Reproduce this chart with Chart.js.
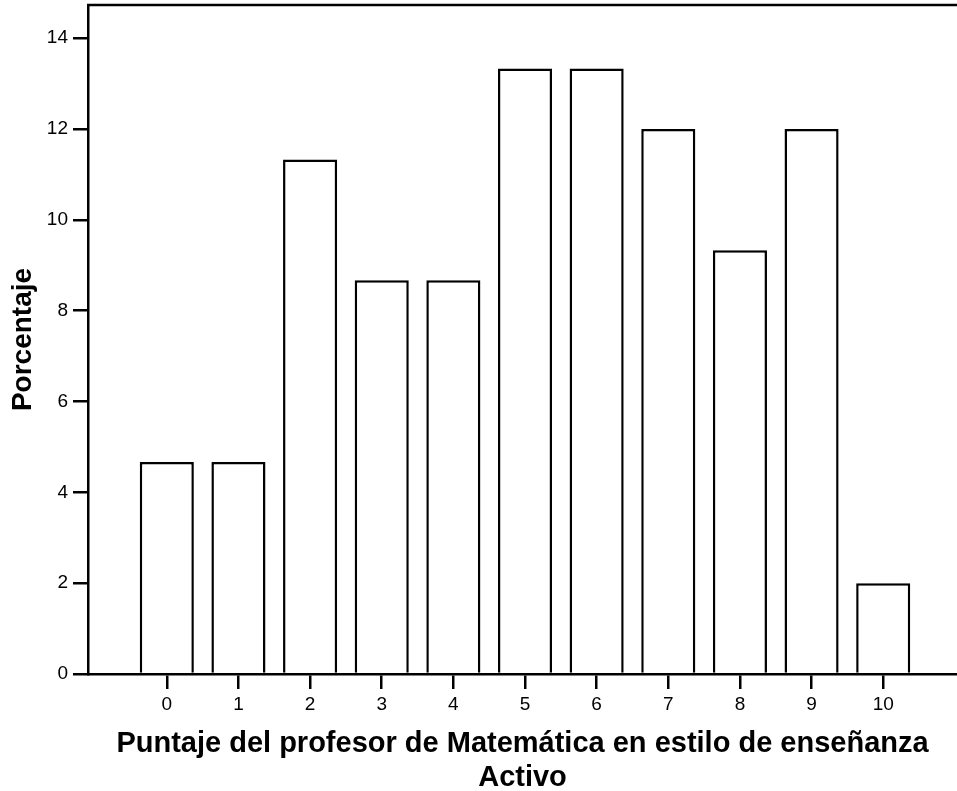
<!DOCTYPE html>
<html>
<head>
<meta charset="utf-8">
<script src="https://cdn.jsdelivr.net/npm/chart.js@4/dist/chart.umd.min.js"></script>
<style>
  html, body { margin: 0; padding: 0; background: #fff; }
  #wrap { width: 957px; height: 791px; }
</style>
</head>
<body>
<div id="wrap"><canvas id="chart"></canvas></div>
<script>
// datos
const categories = [0, 1, 2, 3, 4, 5, 6, 7, 8, 9, 10];
const porcentajes = [4.67, 4.67, 11.33, 8.67, 8.67, 13.33, 13.33, 12.0, 9.33, 12.0, 2.0];
const yTicks = [0, 2, 4, 6, 8, 10, 12, 14];
const xTitle = ['Puntaje del profesor de Matemática en estilo de enseñanza', 'Activo'];
const yTitle = 'Porcentaje';

const FONT = 'Liberation Sans, Arial, sans-serif';

// borde superior del área de gráfico
const topBorder = {
    id: 'topBorder',
    afterDraw(chart) {
        const { ctx, chartArea } = chart;
        ctx.save();
        ctx.strokeStyle = '#000';
        ctx.lineWidth = 2.5;
        ctx.beginPath();
        ctx.moveTo(chartArea.left - 1, chartArea.top);
        ctx.lineTo(chart.width, chartArea.top);
        ctx.stroke();
        ctx.restore();
    }
};

const ctx = document.getElementById('chart').getContext('2d');
new Chart(ctx, {
    type: 'bar',
    data: {
        datasets: [{
            data: categories.map((c, i) => ({ x: c, y: porcentajes[i] })),
            backgroundColor: '#fff',
            borderColor: '#000',
            borderWidth: 2.5,
            barPercentage: 0.755,
            categoryPercentage: 1
        }]
    },
    options: {
        responsive: true,
        maintainAspectRatio: false,
        animation: false,
        layout: { padding: { top: 5, right: 0, left: 0, bottom: 0 } },
        plugins: {
            legend: { display: false },
            tooltip: { enabled: false }
        },
        scales: {
            x: {
                type: 'linear',
                min: -1.1,
                max: 11.03,
                offset: false,
                afterBuildTicks: s => { s.ticks = categories.map(v => ({ value: v })); },
                afterFit: s => { s.height = 117; s.paddingLeft = 0; s.paddingRight = 0; },
                grid: { drawOnChartArea: false, offset: false, color: '#000', lineWidth: 2.5, tickLength: 15 },
                border: { color: '#000', width: 2.5 },
                ticks: {
                    color: '#000',
                    padding: 4,
                    maxRotation: 0,
                    font: { family: FONT, size: 19 }
                },
                title: {
                    display: true,
                    text: xTitle,
                    color: '#000',
                    padding: { top: 4, bottom: -4 },
                    font: { family: FONT, size: 29, weight: 'bold', lineHeight: 1.17 }
                }
            },
            y: {
                min: 0,
                max: 14.73,
                afterBuildTicks: s => { s.ticks = yTicks.map(v => ({ value: v })); },
                afterFit: s => { s.width = 88; s.paddingTop = 0; s.paddingBottom = 0; },
                grid: { drawOnChartArea: false, color: '#000', lineWidth: 2.5, tickLength: 15 },
                border: { color: '#000', width: 2.5 },
                ticks: {
                    color: '#000',
                    padding: 5,
                    font: { family: FONT, size: 19 }
                },
                title: {
                    display: true,
                    text: yTitle,
                    color: '#000',
                    padding: { top: 6, bottom: 4 },
                    font: { family: FONT, size: 28, weight: 'bold' }
                }
            }
        }
    },
    plugins: [topBorder]
});
</script>
</body>
</html>
